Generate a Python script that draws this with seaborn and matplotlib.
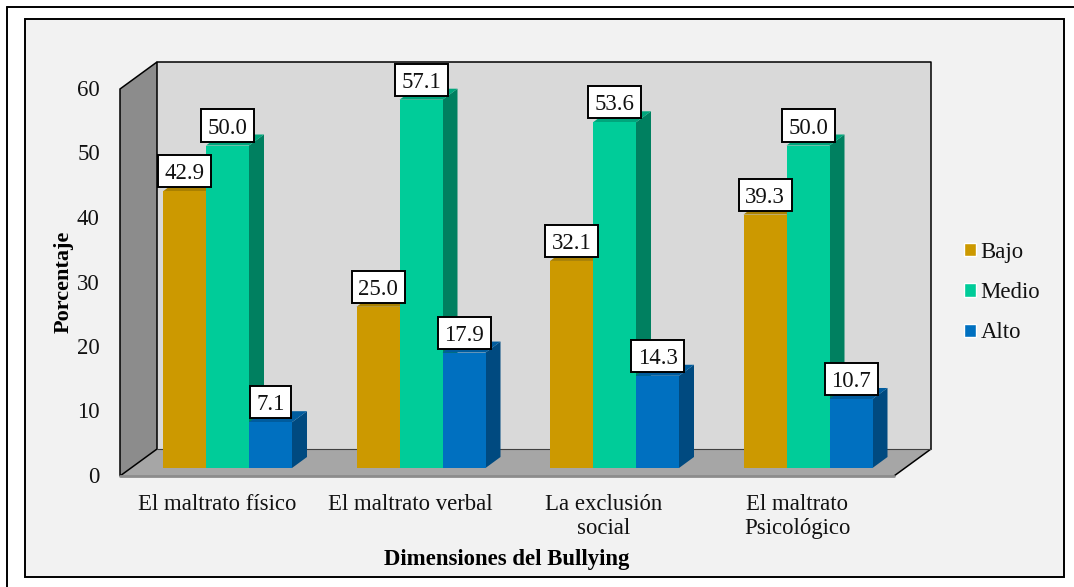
import matplotlib
matplotlib.use('Agg')
import matplotlib.pyplot as plt
from matplotlib.patches import Polygon, Rectangle
import pandas as pd
import seaborn as sns

# ── DATA ──────────────────────────────────────────────────────
dimensions = ['El maltrato físico', 'El maltrato verbal', 'La exclusión\nsocial', 'El maltrato\nPsicológico']
levels = ['Bajo', 'Medio', 'Alto']
bajo = [42.9, 25.0, 32.1, 39.3]
medio = [50.0, 57.1, 53.6, 50.0]
alto = [7.1, 17.9, 14.3, 10.7]

front_colors = ['#CC9900', '#00CC99', '#0070C0']
side_colors = ['#A07800', '#008060', '#004A80']
top_colors = ['#A98000', '#00A67C', '#005C9E']

rows = []
for level, vals in zip(levels, [bajo, medio, alto]):
    for dim, v in zip(dimensions, vals):
        rows.append({'dim': dim, 'level': level, 'value': v})
df = pd.DataFrame(rows)

W, H = 1074, 587
sns.set_theme(style='white')
plt.rcParams['font.family'] = ['Liberation Serif', 'DejaVu Serif']
plt.rcParams['text.color'] = '#111111'
plt.rcParams['ytick.labelcolor'] = '#111111'
plt.rcParams['xtick.labelcolor'] = '#111111'
plt.rcParams['axes.labelcolor'] = '#000000'
FS = 16.4


def rect_px(l, t, r, b):
    return [l / W, 1 - b / H, (r - l) / W, (b - t) / H]


fig = plt.figure(figsize=(W / 100, H / 100), dpi=100, facecolor='white')

# ── frames and 3D box, in pixel coordinates ───────────────────
bg = fig.add_axes([0, 0, 1, 1], zorder=0)
bg.set_xlim(0, W)
bg.set_ylim(H, 0)
bg.axis('off')
bg.plot([6.5, 6.5], [H, 6.5], color='black', lw=1.4)
bg.plot([6.5, W], [6.5, 6.5], color='black', lw=1.4)
bg.add_patch(Rectangle((25, 19), 1039, 558, fc='#F2F2F2', ec='black', lw=1.4))

bg.add_patch(Polygon([(157, 62), (931, 62), (931, 449), (157, 449)], fc='#D9D9D9', ec='none'))
bg.add_patch(Polygon([(120, 476), (157, 449), (931, 449), (894, 476)], fc='#A6A6A6', ec='none'))
bg.add_patch(Polygon([(120, 89), (157, 62), (157, 449), (120, 476)], fc='#8C8C8C', ec='black', lw=1.1))
bg.plot([157, 931, 931, 894], [62, 62, 449, 476], color='black', lw=1.1)
bg.plot([157, 931], [449, 449], color='#404040', lw=0.8)
bg.plot([120, 894], [476, 476], color='#8C8C8C', lw=2)

# ── front plane axes: ticks and titles ────────────────────────
front = fig.add_axes(rect_px(120, 88, 894, 475), zorder=1)
front.patch.set_alpha(0)
front.set_xlim(-0.5, 3.5)
front.set_ylim(0, 60)
sns.despine(ax=front, left=True, bottom=True)
front.set_xticks(range(4))
front.set_xticklabels(dimensions, fontsize=FS, linespacing=1.15)
front.set_yticks(range(0, 61, 10))
front.tick_params(axis='y', labelsize=FS, pad=14.5, length=0)
front.tick_params(axis='x', pad=14, length=0)
front.set_ylabel('Porcentaje', fontsize=16, fontweight='bold')
front.yaxis.set_label_coords(63.5, 282, transform=bg.transData)
front.set_xlabel('Dimensiones del Bullying', fontsize=FS, fontweight='bold')
front.xaxis.set_label_coords(507, 559, transform=bg.transData)
front.xaxis.label.set_va('center')
front.yaxis.label.set_va('center')

# ── bars, on the plane a little behind the front edge ─────────
ax = fig.add_axes(rect_px(130.75, 81, 904.75, 468), zorder=2)
ax.patch.set_alpha(0)
sns.barplot(data=df, x='dim', y='value', hue='level', order=dimensions, hue_order=levels,
            palette=front_colors, width=129 / 193.5, saturation=1, gap=0, ax=ax)
ax.set_xlim(-0.5, 3.5)
ax.set_ylim(0, 60)

px_x = 1 / 193.5
px_y = 1 / 6.45
depth_x = 15 * px_x
depth_y = 11 * px_y
for i, bars in enumerate(ax.containers):
    for bar in bars:
        x0, x1 = bar.get_x(), bar.get_x() + bar.get_width()
        xc = (x0 + x1) / 2
        y1 = bar.get_height()
        bar.set_zorder(3 + i + 0.5)
        bar.set_edgecolor('none')
        ax.add_patch(Polygon([(x1, 0), (x1 + depth_x, depth_y), (x1 + depth_x, y1 + depth_y), (x1, y1)],
                             fc=side_colors[i], ec='none', zorder=3 + i, clip_on=False))
        ax.add_patch(Polygon([(x0, y1), (x0 + depth_x, y1 + depth_y), (x1 + depth_x, y1 + depth_y), (x1, y1)],
                             fc=top_colors[i], ec='none', zorder=3 + i, clip_on=False))
        # value box: narrower for the one-digit labels
        box_w = (41 if y1 < 10 else 53) * px_x
        box_h = 32 * px_y
        box_y = y1 + 4 * px_y
        ax.add_patch(Rectangle((xc - box_w / 2, box_y), box_w, box_h, fc='white', ec='black',
                               lw=1.4, zorder=20, clip_on=False))
        ax.text(xc, box_y + box_h / 2, f'{y1:.1f}', ha='center', va='center_baseline', fontsize=FS,
                zorder=21, clip_on=False)

handles, labels = ax.get_legend_handles_labels()
ax.legend_.remove()
ax.set_axis_off()
fig.legend(handles, labels, loc='center left', bbox_to_anchor=(964 / W, 1 - 292.5 / H), frameon=False,
           fontsize=FS, handlelength=0.53, handleheight=0.53, handletextpad=0.2, labelspacing=0.85,
           borderpad=0, borderaxespad=0)

fig.savefig('out.png', dpi=100)
